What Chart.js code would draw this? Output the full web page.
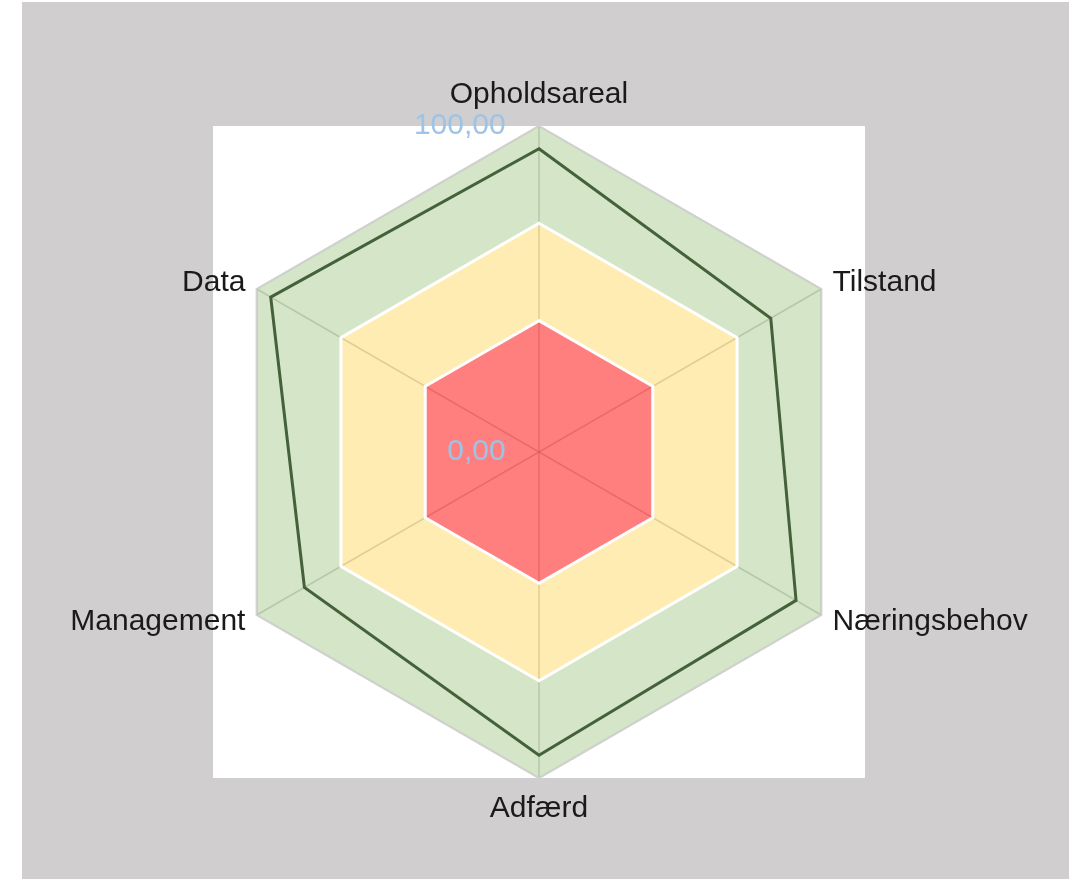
<!DOCTYPE html>
<html>
<head>
<meta charset="utf-8">
<script src="https://cdn.jsdelivr.net/npm/chart.js@4/dist/chart.umd.min.js"></script>
<style>
  html, body { margin: 0; padding: 0; background: #fff; }
  #bg { position: absolute; left: 22px; top: 2px; right: 0; bottom: 0; background: #d0cecf; }
  #wrap { position: absolute; left: 0; top: 0; width: 1069px; height: 879px; }
</style>
</head>
<body>
<div id="bg"></div>
<div id="wrap"><canvas id="radar"></canvas></div>
<script>
const categories = ['Opholdsareal', 'Tilstand', 'Næringsbehov', 'Adfærd', 'Management', 'Data'];
const score = [93, 82, 91, 93, 83, 95];
const redBand = [40, 40, 40, 40, 40, 40];
const yellowBand = [70, 70, 70, 70, 70, 70];
const greenBand = [100, 100, 100, 100, 100, 100];
const tickLabels = { 0: '0,00', 100: '100,00' };

// white square behind the radar, sized from the scale itself
const squareBg = {
  id: 'squareBg',
  beforeDraw(chart) {
    const s = chart.scales.r;
    const ctx = chart.ctx;
    ctx.save();
    ctx.fillStyle = '#ffffff';
    ctx.fillRect(s.xCenter - s.drawingArea, s.yCenter - s.drawingArea, s.drawingArea * 2, s.drawingArea * 2);
    ctx.restore();
  }
};

const ctx = document.querySelector('#radar').getContext('2d');

new Chart(ctx, {
  type: 'radar',
  data: {
    labels: categories,
    datasets: [
      {
        data: score,
        fill: false,
        borderColor: '#44613a',
        borderWidth: 3,
        pointRadius: 0
      },
      {
        data: redBand,
        fill: 'start',
        backgroundColor: 'rgba(255,0,0,0.5)',
        borderColor: '#ffffff',
        borderWidth: 3,
        pointRadius: 0
      },
      {
        data: yellowBand,
        fill: '-1',
        backgroundColor: 'rgba(255,192,0,0.3)',
        borderColor: '#ffffff',
        borderWidth: 3,
        pointRadius: 0
      },
      {
        data: greenBand,
        fill: '-1',
        backgroundColor: 'rgba(112,173,71,0.3)',
        borderColor: '#d2d2d2',
        borderWidth: 1.5,
        pointRadius: 0
      }
    ]
  },
  options: {
    responsive: true,
    maintainAspectRatio: false,
    animation: false,
    layout: { padding: { top: 77, bottom: 52, left: 10, right: 0 } },
    plugins: {
      legend: { display: false },
      tooltip: { enabled: false }
    },
    scales: {
      r: {
        min: -0.5,
        max: 100,
        ticks: {
          stepSize: 100,
          z: 1,
          color: '#9dc3e6',
          font: { family: 'Liberation Sans, Arial', size: 30 },
          showLabelBackdrop: false,
          // trailing spaces push the centred label left of the axis
          callback: (v) => v <= 0 ? tickLabels[0] + ' '.repeat(15) : tickLabels[100] + ' '.repeat(19)
        },
        grid: { color: '#cfcfcf', lineWidth: 2 },
        angleLines: { color: 'rgba(160,160,160,0.45)', lineWidth: 1.5 },
        pointLabels: {
          color: '#1a1a1a',
          padding: -4,
          // side labels sit centred on their spoke height
          font: (c) => c.index % 3 === 0
            ? { family: 'Liberation Sans, Arial', size: 30 }
            : { family: 'Liberation Sans, Arial', size: 30, lineHeight: 0 }
        }
      }
    }
  },
  plugins: [squareBg]
});
</script>
</body>
</html>
